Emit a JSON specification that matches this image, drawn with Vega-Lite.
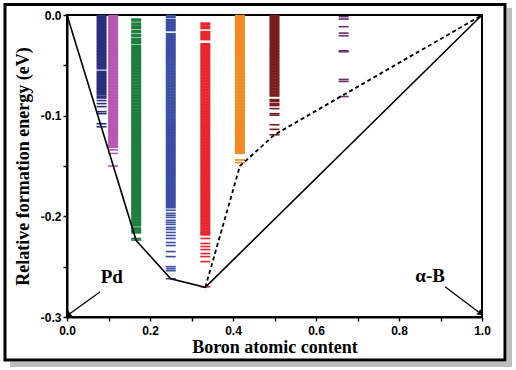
{
  "$schema": "https://vega.github.io/schema/vega-lite/v6.json",
  "width": 415,
  "height": 302,
  "autosize": {"type": "none"},
  "padding": {"left": 67, "top": 15, "right": 34, "bottom": 53},
  "background": "white",
  "config": {
    "view": {"stroke": "black", "strokeWidth": 2},
    "axis": {
      "grid": false,
      "domainColor": "black",
      "domainWidth": 2,
      "tickColor": "black",
      "tickWidth": 1.5,
      "tickSize": 4,
      "labelFont": "Liberation Sans",
      "labelFontWeight": "bold",
      "labelFontSize": 12,
      "labelColor": "black",
      "titleFont": "Liberation Serif",
      "titleFontWeight": "bold",
      "titleFontSize": 18,
      "titleColor": "black"
    }
  },
  "datasets": {
    "dense": [
      {"x": 0.0833, "g": "a", "ys": [-0.0015,-0.0045,-0.0075,-0.0105,-0.0135,-0.0165,-0.0195,-0.0225,-0.0255,-0.0285,-0.0315,-0.0345,-0.0375,-0.0405,-0.0435,-0.0465,-0.0495,-0.0525,-0.057,-0.060,-0.063,-0.066,-0.069,-0.072,-0.075,-0.078,-0.0815]},
      {"x": 0.1111, "g": "b", "ys": [-0.0015,-0.0045,-0.0075,-0.0105,-0.0135,-0.0165,-0.0195,-0.0225,-0.0255,-0.0285,-0.0315,-0.0345,-0.0375,-0.0405,-0.0435,-0.0465,-0.0495,-0.0525,-0.0555,-0.0585,-0.0615,-0.0645,-0.0675,-0.0705,-0.0735,-0.0765,-0.0795,-0.0825,-0.0855,-0.0885,-0.0915,-0.0945,-0.0975,-0.1005,-0.1035,-0.1065,-0.1095,-0.1125,-0.1155,-0.1185,-0.1215,-0.1245,-0.1275,-0.1305]},
      {"x": 0.1667, "g": "c", "ys": [-0.005,-0.009,-0.0125,-0.0165,-0.0205,-0.0245,-0.0275,-0.0315,-0.0345,-0.0375,-0.0405,-0.0435,-0.0465,-0.0495,-0.0525,-0.0555,-0.0585,-0.0615,-0.0645,-0.0675,-0.0705,-0.0735,-0.0765,-0.0795,-0.0825,-0.0855,-0.0885,-0.0915,-0.0945,-0.0975,-0.1005,-0.1035,-0.1065,-0.1095,-0.1125,-0.1155,-0.1185,-0.1215,-0.1245,-0.1275,-0.1305,-0.1335,-0.1365,-0.1395,-0.1425,-0.1455,-0.1485,-0.1515,-0.1545,-0.1575,-0.1605,-0.1635,-0.1665,-0.1695,-0.1725,-0.1755,-0.1785,-0.1815,-0.1845,-0.1875,-0.1905,-0.1935,-0.1965,-0.1995,-0.2025,-0.2055,-0.2085,-0.2125,-0.2155]},
      {"x": 0.25, "g": "d", "ys": [-0.0015,-0.0055,-0.0085,-0.0115,-0.0145,-0.0195,-0.0225,-0.0255,-0.0285,-0.0315,-0.0345,-0.0375,-0.0405,-0.0435,-0.0465,-0.0495,-0.0525,-0.0555,-0.0585,-0.0615,-0.0645,-0.0675,-0.0705,-0.0735,-0.0765,-0.0795,-0.0825,-0.0855,-0.0885,-0.0915,-0.0945,-0.0975,-0.1005,-0.1035,-0.1065,-0.1095,-0.1125,-0.1155,-0.1185,-0.1215,-0.1245,-0.1275,-0.1305,-0.1335,-0.1365,-0.1395,-0.1425,-0.1455,-0.1485,-0.1515,-0.1545,-0.1575,-0.1605,-0.1635,-0.1665,-0.1695,-0.1725,-0.1755,-0.1785,-0.1815,-0.1845,-0.1875,-0.1905]},
      {"x": 0.3333, "g": "e", "ys": [-0.009,-0.0125,-0.0175,-0.0205,-0.0235,-0.0295,-0.0325,-0.0355,-0.0385,-0.0415,-0.0445,-0.0475,-0.0505,-0.0535,-0.0565,-0.0595,-0.0625,-0.0655,-0.0685,-0.0715,-0.0745,-0.0775,-0.0805,-0.0835,-0.0865,-0.0895,-0.0925,-0.0955,-0.0985,-0.1015,-0.1045,-0.1075,-0.1105,-0.1135,-0.1165,-0.1195,-0.1225,-0.1255,-0.1285,-0.1315,-0.1345,-0.1375,-0.1405,-0.1435,-0.1465,-0.1495,-0.1525,-0.1555,-0.1585,-0.1615,-0.1645,-0.1675,-0.1705,-0.1735,-0.1765,-0.1795,-0.1825,-0.1855,-0.1885,-0.1915,-0.1945,-0.1975,-0.2005,-0.2035,-0.2065,-0.2095,-0.2125,-0.2155,-0.2175]},
      {"x": 0.4167, "g": "f", "ys": [-0.0015,-0.0045,-0.0075,-0.0105,-0.0135,-0.0165,-0.0195,-0.0225,-0.0255,-0.0285,-0.0315,-0.0345,-0.0375,-0.0405,-0.0435,-0.0465,-0.0495,-0.0525,-0.0555,-0.0585,-0.0615,-0.0645,-0.0675,-0.0705,-0.0735,-0.0765,-0.0795,-0.0825,-0.0855,-0.0885,-0.0915,-0.0945,-0.0975,-0.1005,-0.1035,-0.1065,-0.1095,-0.1125,-0.1155,-0.1185,-0.1215,-0.1245,-0.1275,-0.1305,-0.1335,-0.1365]},
      {"x": 0.5, "g": "g", "ys": [-0.0015,-0.0045,-0.0075,-0.0105,-0.0135,-0.0165,-0.0195,-0.0225,-0.0255,-0.0285,-0.0315,-0.0345,-0.0375,-0.0405,-0.0435,-0.0465,-0.0495,-0.0525,-0.0555,-0.0585,-0.0615,-0.0645,-0.0675,-0.0705,-0.0735,-0.0765,-0.0795,-0.085,-0.089]}
    ],
    "sparse": [
      {"x": 0.0833, "g": "a", "ys": [-0.085,-0.088,-0.091,-0.096,-0.098,-0.108,-0.111]},
      {"x": 0.1111, "g": "b", "ys": [-0.134,-0.1375,-0.150]},
      {"x": 0.1667, "g": "c", "ys": [-0.222,-0.2235]},
      {"x": 0.25, "g": "d", "ys": [-0.194,-0.197,-0.199,-0.201,-0.204,-0.206,-0.208,-0.211,-0.213,-0.216,-0.219,-0.222,-0.226,-0.229,-0.235,-0.240,-0.250,-0.252,-0.254,-0.262]},
      {"x": 0.3333, "g": "e", "ys": [-0.222,-0.227,-0.230,-0.233,-0.237,-0.240,-0.245,-0.270]},
      {"x": 0.4167, "g": "f", "ys": [-0.144,-0.1467]},
      {"x": 0.5, "g": "g", "ys": [-0.093,-0.098,-0.0995,-0.109,-0.1136,-0.119]},
      {"x": 0.6667, "g": "h", "ys": [-0.0017,-0.004,-0.0116,-0.018,-0.0206,-0.0355,-0.0365,-0.064,-0.066,-0.081]}
    ],
    "hull": [
      {"x": 0, "y": 0},
      {"x": 0.1667, "y": -0.224},
      {"x": 0.25, "y": -0.262},
      {"x": 0.3333, "y": -0.2705},
      {"x": 1, "y": 0}
    ],
    "meta": [
      {"x": 0.3333, "y": -0.2705},
      {"x": 0.4167, "y": -0.150},
      {"x": 0.5, "y": -0.119},
      {"x": 1, "y": 0}
    ],
    "arrows": [
      {"name": "Pd", "x": 0.08, "y": -0.275, "x2": 0.004, "y2": -0.2975},
      {"name": "aB", "x": 0.911, "y": -0.270, "x2": 0.995, "y2": -0.296}
    ],
    "labels": [
      {"t": "Pd", "x": 0.108, "y": -0.260},
      {"t": "α-B", "x": 0.875, "y": -0.259}
    ]
  },
  "layer": [
    {
      "data": {"values": [{}]},
      "mark": {"type": "rect", "fill": "#bdbdbd", "clip": false},
      "encoding": {
        "x": {"datum": 1.0602, "type": "quantitative", "scale": {"domain": [0, 1], "nice": false}},
        "x2": {"datum": 1.0723},
        "y": {"datum": 0.007, "type": "quantitative", "scale": {"domain": [-0.3, 0], "nice": false}},
        "y2": {"datum": -0.3497}
      }
    },
    {
      "data": {"values": [{}]},
      "mark": {"type": "rect", "fill": "#bdbdbd", "clip": false},
      "encoding": {
        "x": {"datum": -0.1373, "type": "quantitative"},
        "x2": {"datum": 1.0723},
        "y": {"datum": -0.3447, "type": "quantitative"},
        "y2": {"datum": -0.3497}
      }
    },
    {
      "data": {"values": [{}]},
      "mark": {"type": "rect", "fill": null, "fillOpacity": 0, "stroke": "black", "strokeWidth": 3, "clip": false},
      "encoding": {
        "x": {"datum": -0.1494, "type": "quantitative"},
        "x2": {"datum": 1.0554},
        "y": {"datum": 0.0105, "type": "quantitative"},
        "y2": {"datum": -0.3427}
      }
    },
    {
      "data": {"name": "dense"},
      "transform": [{"flatten": ["ys"], "as": ["y"]}],
      "mark": {"type": "tick", "orient": "horizontal", "size": 10, "thickness": 3.5, "opacity": 1},
      "encoding": {
        "x": {"field": "x", "type": "quantitative", "scale": {"domain": [0, 1], "nice": false},
          "axis": {"title": "Boron atomic content", "values": [0,0.1,0.2,0.3,0.4,0.5,0.6,0.7,0.8,0.9,1.0], "labelExpr": "round(datum.value*10)%2==0 ? format(datum.value,'.1f') : ''", "labelPadding": 4, "titlePadding": 2, "labelFlush": false}},
        "y": {"field": "y", "type": "quantitative", "scale": {"domain": [-0.3, 0], "nice": false},
          "axis": {"title": "Relative formation energy (eV)", "values": [0,-0.05,-0.1,-0.15,-0.2,-0.25,-0.3], "labelExpr": "round(datum.value*20)%2==0 ? replace(format(datum.value,'.1f'),'−','-') : ''", "labelPadding": 2, "titlePadding": 8, "labelFlush": false}},
        "color": {"field": "g", "type": "nominal", "legend": null,
          "scale": {"domain": ["a","b","c","d","e","f","g","h"], "range": ["#2d2e7c","#b658b2","#1c7e3d","#3a4fa4","#e8262b","#f08a24","#7a1b1e","#6b2d6e"]}}
      }
    },
    {
      "data": {"name": "sparse"},
      "transform": [{"flatten": ["ys"], "as": ["y"]}],
      "mark": {"type": "tick", "orient": "horizontal", "size": 10, "thickness": 1.6, "opacity": 1},
      "encoding": {
        "x": {"field": "x", "type": "quantitative"},
        "y": {"field": "y", "type": "quantitative"},
        "color": {"field": "g", "type": "nominal", "legend": null}
      }
    },
    {
      "data": {"name": "hull"},
      "mark": {"type": "line", "color": "black", "strokeWidth": 1.6},
      "encoding": {
        "x": {"field": "x", "type": "quantitative"},
        "y": {"field": "y", "type": "quantitative"}
      }
    },
    {
      "data": {"name": "meta"},
      "mark": {"type": "line", "color": "black", "strokeWidth": 1.8, "strokeDash": [4, 3]},
      "encoding": {
        "x": {"field": "x", "type": "quantitative"},
        "y": {"field": "y", "type": "quantitative"}
      }
    },
    {
      "data": {"name": "arrows"},
      "mark": {"type": "rule", "color": "black", "strokeWidth": 1.3},
      "encoding": {
        "x": {"field": "x", "type": "quantitative"},
        "y": {"field": "y", "type": "quantitative"},
        "x2": {"field": "x2"},
        "y2": {"field": "y2"}
      }
    },
    {
      "data": {"name": "arrows"},
      "transform": [{"filter": "datum.name == 'Pd'"}],
      "mark": {"type": "point", "shape": "triangle", "filled": true, "color": "black", "size": 45, "angle": 234, "opacity": 1},
      "encoding": {
        "x": {"field": "x2", "type": "quantitative"},
        "y": {"field": "y2", "type": "quantitative"}
      }
    },
    {
      "data": {"name": "arrows"},
      "transform": [{"filter": "datum.name == 'aB'"}],
      "mark": {"type": "point", "shape": "triangle", "filled": true, "color": "black", "size": 45, "angle": 127, "opacity": 1},
      "encoding": {
        "x": {"field": "x2", "type": "quantitative"},
        "y": {"field": "y2", "type": "quantitative"}
      }
    },
    {
      "data": {"name": "labels"},
      "mark": {"type": "text", "font": "Liberation Serif", "fontWeight": "bold", "fontSize": 19, "color": "black", "align": "center", "baseline": "middle"},
      "encoding": {
        "x": {"field": "x", "type": "quantitative"},
        "y": {"field": "y", "type": "quantitative"},
        "text": {"field": "t"}
      }
    }
  ]
}
